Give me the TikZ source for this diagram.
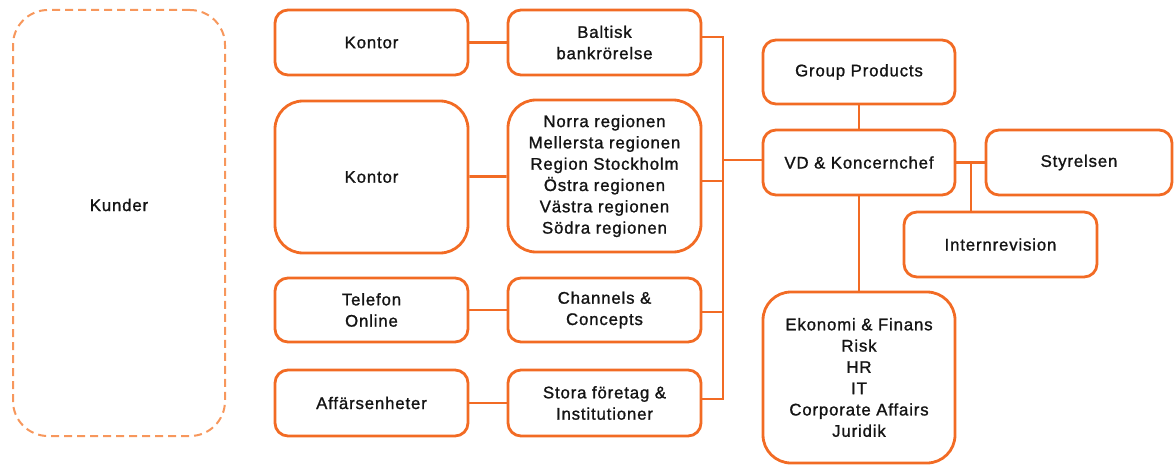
\documentclass[tikz,border=0pt]{standalone}
\usepackage{fontspec}
\setmainfont[LetterSpace=5,FakeBold=1.2]{Liberation Sans}
\definecolor{org}{HTML}{F26B24}
\definecolor{orgl}{HTML}{F7975C}
\definecolor{txt}{HTML}{141414}
\begin{document}
\begin{tikzpicture}[x=1pt,y=-1pt,
  box/.style={draw=org, line width=2.8pt, rounded corners=13pt, align=center,
    font=\fontsize{16.8}{21.3}\selectfont, text=txt, inner sep=0pt},
  tall/.style={box, rounded corners=28pt},
  link/.style={draw=org, line width=2.8pt}]
\useasboundingbox (0,0) rectangle (1174,465);
\node[box, draw=orgl, line width=2pt, dash pattern=on 8pt off 5pt, rounded corners=35pt,
  minimum width=212pt, minimum height=426pt,
  label={[font=\fontsize{16.8}{21.3}\selectfont, text=txt, yshift=18pt]center:Kunder}] (kunder) at (119,223) {};
% left column
\node[box, minimum width=193pt, minimum height=65pt] (k1) at (371.5,42.5) {Kontor};
\node[tall, minimum width=193pt, minimum height=152pt] (k2) at (371.5,177) {Kontor};
\node[box, minimum width=193pt, minimum height=64pt] (tel) at (371.5,310) {Telefon\\Online};
\node[box, minimum width=193pt, minimum height=66pt] (aff) at (371.5,403) {Affärsenheter};
% middle column
\node[box, minimum width=193pt, minimum height=65pt] (balt) at (604.5,42.5) {Baltisk\\bankrörelse};
\node[tall, minimum width=193pt, minimum height=152pt] (reg) at (604.5,176) {Norra regionen\\Mellersta regionen\\Region Stockholm\\Östra regionen\\Västra regionen\\Södra regionen};
\node[box, minimum width=193pt, minimum height=64pt] (ch) at (604.5,310) {Channels \&\\Concepts};
\node[box, minimum width=193pt, minimum height=66pt] (st) at (604.5,403) {Stora företag \&\\Institutioner};
% right cluster
\node[box, minimum width=192pt, minimum height=64pt] (gp) at (859,72) {Group Products};
\node[box, minimum width=192pt, minimum height=65pt] (vd) at (859,162.5) {VD \& Koncernchef};
\node[box, minimum width=186pt, minimum height=65pt] (sty) at (1079,162.5) {Styrelsen};
\node[box, minimum width=193pt, minimum height=65pt] (ir) at (1000.5,244.5) {Internrevision};
\node[tall, minimum width=192pt, minimum height=171pt] (eko) at (859,377.5) {Ekonomi \& Finans\\Risk\\HR\\IT\\Corporate Affairs\\Juridik};
% connectors
\draw[link] (k1) -- (balt);
\draw[link] (k2) -- (reg);
\draw[link] (tel) -- (ch);
\draw[link] (aff) -- (st);
\coordinate (b1) at (723,37);
\coordinate (b2) at (723,181);
\coordinate (b3) at (723,312);
\coordinate (b4) at (723,399);
\coordinate (bv) at (723,160);
\draw[link] (balt.east |- b1) -- (b1) -- (b4) -- (st.east |- b4);
\draw[link] (reg.east |- b2) -- (b2);
\draw[link] (ch.east |- b3) -- (b3);
\draw[link] (bv) -- (vd.west |- bv);
\draw[link] (gp) -- (vd);
\draw[link] (vd) -- (eko);
\draw[link] (vd) -- (sty);
\coordinate (j) at (971,162.5);
\draw[link] (j) -- (ir.north -| j);
\end{tikzpicture}
\end{document}
